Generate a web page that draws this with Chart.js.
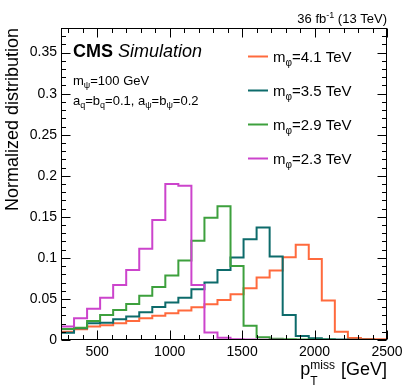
<!DOCTYPE html>
<html>
<head>
<meta charset="utf-8">
<title>MET shapes</title>
<script src="https://cdn.jsdelivr.net/npm/chart.js@4.4.0/dist/chart.umd.min.js"></script>
<style>
    html, body { margin: 0; padding: 0; background: #fff; }
    #wrap { width: 407px; height: 391px; }
</style>
</head>
<body>
<div id="wrap"><canvas id="met-shapes" width="407" height="391"></canvas></div>
<script>
// p_T^miss bin edges in GeV (25 bins of 90 GeV)
const binEdges = [250, 340, 430, 520, 610, 700, 790, 880, 970, 1060, 1150, 1240, 1330,
    1420, 1510, 1600, 1690, 1780, 1870, 1960, 2050, 2140, 2230, 2320, 2410, 2500];

const massLabels = ['4.1', '3.5', '2.9', '2.3'];

// normalized distribution per bin
const dist41 = [0.0102, 0.0130, 0.0163, 0.0179, 0.0203, 0.0232, 0.0264, 0.0295, 0.0325, 0.0360,
    0.0398, 0.0435, 0.0488, 0.0557, 0.0630, 0.0760, 0.0846, 0.1008, 0.1159, 0.0988,
    0.0480, 0.0102, 0.0024, 0.0012, 0.0008];
const dist35 = [0.0089, 0.0142, 0.0203, 0.0211, 0.0252, 0.0285, 0.0337, 0.0402, 0.0458, 0.0516,
    0.0618, 0.0699, 0.0854, 0.1004, 0.1228, 0.1370, 0.1016, 0.0305, 0.0050, 0.0020,
    0.0010, 0.0005, 0.0003, 0.0002, 0.0001];
const dist29 = [0.0135, 0.0150, 0.0232, 0.0305, 0.0366, 0.0439, 0.0540, 0.0645, 0.0785, 0.0968,
    0.1210, 0.1490, 0.1630, 0.0902, 0.0175, 0.0033, 0.0015, 0.0010, 0.0005, 0.0003,
    0.0002, 0.0001, 0, 0, 0];
const dist23 = [0.0163, 0.0264, 0.0380, 0.0516, 0.0670, 0.0854, 0.1110, 0.1463, 0.1900, 0.1880,
    0.0670, 0.0090, 0.0028, 0.0010, 0.0005, 0.0003, 0.0002, 0.0001, 0, 0,
    0, 0, 0, 0, 0];

const xTickValues = [500, 1000, 1500, 2000, 2500];
const yTickValues = [0, 0.05, 0.1, 0.15, 0.2, 0.25, 0.3, 0.35];

const seriesColors = ['#ff6a3d', '#0d6b6b', '#3da03d', '#cc44cc'];
const FONT = '"Liberation Sans", Arial, Helvetica, sans-serif';

// step points: value of bin i sits at its left edge, last value repeated at the right edge
function histPoints(values) {
    return binEdges.map((edge, i) => ({x: edge, y: values[Math.min(i, values.length - 1)]}));
}

// draws a run of text pieces, each {t, size, dy, weight, style, stack}
function drawPieces(ctx, pieces, x, y, align) {
    const widthOf = p => {
        ctx.font = (p.style || '') + ' ' + (p.weight || '') + ' ' + p.size + 'px ' + FONT;
        return ctx.measureText(p.t).width;
    };
    let total = 0;
    pieces.forEach(p => { if (!p.stack) total += p.adv !== undefined ? p.adv : widthOf(p); });
    let cx = align === 'right' ? x - total : x;
    let last = cx;
    pieces.forEach(p => {
        ctx.font = (p.style || '') + ' ' + (p.weight || '') + ' ' + p.size + 'px ' + FONT;
        ctx.textAlign = 'left';
        ctx.textBaseline = 'alphabetic';
        const px = p.stack ? last : cx;
        ctx.fillText(p.t, px, y + (p.dy || 0));
        if (!p.stack) {
            last = cx;
            cx += p.adv !== undefined ? p.adv : widthOf(p);
        }
    });
}

const rootStyle = {
    id: 'rootStyle',
    afterDatasetsDraw(chart) {
        const {ctx, chartArea: a, scales: {x, y}} = chart;
        const L = Math.round(a.left) + 0.5, R = Math.round(a.right) - 0.5;
        const T = Math.round(a.top) + 0.5, B = Math.round(a.bottom) - 0.5;
        ctx.save();
        ctx.strokeStyle = '#000';
        ctx.lineWidth = 1;
        ctx.beginPath();
        // x ticks, bottom and top
        for (let v = 300; v <= 2500; v += 100) {
            const px = Math.round(x.getPixelForValue(v)) + 0.5;
            const len = v % 500 === 0 ? 9 : 4.5;
            ctx.moveTo(px, B); ctx.lineTo(px, B - len);
            ctx.moveTo(px, T); ctx.lineTo(px, T + len);
        }
        // y ticks, left and right
        for (let k = 0; k <= 38; k++) {
            const py = Math.round(y.getPixelForValue(k / 100)) + 0.5;
            const len = k % 5 === 0 ? 9 : 4.5;
            ctx.moveTo(L, py); ctx.lineTo(L + len, py);
            ctx.moveTo(R, py); ctx.lineTo(R - len, py);
        }
        ctx.stroke();
        ctx.strokeRect(L, T, R - L, B - T);

        ctx.fillStyle = '#000';
        // lumi label
        drawPieces(ctx, [
            {t: '36 fb', size: 13},
            {t: '-1', size: 9, dy: -5},
            {t: ' (13 TeV)', size: 13}
        ], a.right, 23, 'right');

        // CMS Simulation
        drawPieces(ctx, [
            {t: 'CMS ', size: 18, weight: 'bold'},
            {t: 'Simulation', size: 18, style: 'italic'}
        ], 73, 57, 'left');

        drawPieces(ctx, [
            {t: 'm', size: 13}, {t: '\u03c8', size: 9, dy: 3}, {t: '=100 GeV', size: 13}
        ], 73, 85, 'left');
        drawPieces(ctx, [
            {t: 'a', size: 13}, {t: 'q', size: 9, dy: 3}, {t: '=b', size: 13}, {t: 'q', size: 9, dy: 3},
            {t: '=0.1, a', size: 13}, {t: '\u03c8', size: 9, dy: 3}, {t: '=b', size: 13},
            {t: '\u03c8', size: 9, dy: 3}, {t: '=0.2', size: 13}
        ], 73, 105, 'left');

        // legend
        const legendY = [56, 90, 124, 158];
        chart.data.datasets.forEach((ds, i) => {
            const ly = legendY[i] + 0.5;
            ctx.strokeStyle = ds.borderColor;
            ctx.lineWidth = 2;
            ctx.beginPath();
            ctx.moveTo(248, ly); ctx.lineTo(268, ly);
            ctx.stroke();
            drawPieces(ctx, [
                {t: 'm', size: 15}, {t: '\u03c6', size: 10, dy: 4},
                {t: '=' + massLabels[i] + ' TeV', size: 15}
            ], 273, ly + 5.5, 'left');
        });

        // axis titles
        ctx.save();
        ctx.translate(18, a.top);
        ctx.rotate(-Math.PI / 2);
        ctx.font = '18px ' + FONT;
        ctx.textAlign = 'right';
        ctx.textBaseline = 'alphabetic';
        ctx.fillText('Normalized distribution', 0, 0);
        ctx.restore();

        ctx.font = '12px ' + FONT;
        const missW = ctx.measureText('miss').width;
        drawPieces(ctx, [
            {t: 'p', size: 18},
            {t: 'T', size: 12, dy: 10, adv: missW + 1},
            {t: 'miss', size: 12, dy: -6, stack: true},
            {t: ' [GeV]', size: 18}
        ], a.right, 375, 'right');
        ctx.restore();
    }
};

const datasets = [dist41, dist35, dist29, dist23].map((values, i) => ({
    label: 'm\u03c6=' + massLabels[i] + ' TeV',
    data: histPoints(values),
    borderColor: seriesColors[i],
    backgroundColor: seriesColors[i],
    borderWidth: 2,
    pointRadius: 0,
    fill: false,
    stepped: 'before',
    order: 3 - i
}));

new Chart(document.getElementById('met-shapes'), {
    type: 'line',
    data: {datasets: datasets},
    plugins: [rootStyle],
    options: {
        responsive: false,
        animation: false,
        devicePixelRatio: 1,
        layout: {padding: {left: 0, top: 28, right: 20, bottom: 0}},
        plugins: {legend: {display: false}, tooltip: {enabled: false}},
        scales: {
            x: {
                type: 'linear',
                min: 250,
                max: 2500,
                grid: {display: false, drawTicks: false},
                border: {display: false},
                afterBuildTicks: scale => { scale.ticks = xTickValues.map(v => ({value: v})); },
                afterFit: scale => { scale.height = 51; },
                ticks: {
                    color: '#000',
                    padding: 4,
                    maxRotation: 0,
                    font: {family: FONT, size: 14},
                    callback: v => String(v)
                }
            },
            y: {
                type: 'linear',
                min: 0,
                max: 0.38,
                grid: {display: false, drawTicks: false},
                border: {display: false},
                afterBuildTicks: scale => { scale.ticks = yTickValues.map(v => ({value: v})); },
                afterFit: scale => { scale.width = 61; },
                ticks: {
                    color: '#000',
                    padding: 4,
                    font: {family: FONT, size: 14},
                    callback: v => v === 0 ? '0' : String(+v.toFixed(2))
                }
            }
        }
    }
});
</script>
</body>
</html>
